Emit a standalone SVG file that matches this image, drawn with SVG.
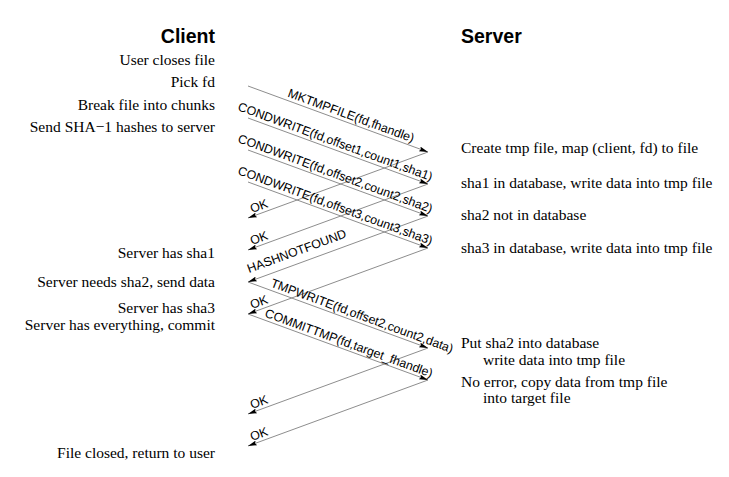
<svg xmlns="http://www.w3.org/2000/svg" width="729" height="477" viewBox="0 0 729 477">
  <style>
    .hdr { font-family: "Liberation Sans", Arial, sans-serif; font-weight: bold; font-size: 19.5px; fill: #000; }
    .note { font-family: "Liberation Serif", "Times New Roman", serif; font-size: 15.5px; fill: #000; }
    .right { text-anchor: end; }
    .msg { font-family: "Liberation Sans", Arial, sans-serif; font-size: 12.4px; fill: #000; }
    .wire { stroke: #808080; stroke-width: 0.9; fill: none; marker-end: url(#head); }
  </style>
  <defs>
    <marker id="head" markerUnits="userSpaceOnUse" viewBox="0 0 9 5" refX="9" refY="2.5" markerWidth="9" markerHeight="5" orient="auto">
      <path d="M0,0 L9,2.5 L0,5 L1.5,2.5 z" fill="#000"/>
    </marker>
  </defs>

  <rect width="729" height="477" fill="#fff"/>

  <!-- column headings -->
  <g id="client-header"><text class="hdr right" x="215" y="43">Client</text></g>
  <g id="server-header"><text class="hdr" x="461" y="43">Server</text></g>

  <!-- client-side notes -->
  <g id="client-notes">
    <text class="note right" x="215" y="65">User closes file</text>
    <text class="note right" x="215" y="87">Pick fd</text>
    <text class="note right" x="215" y="110">Break file into chunks</text>
    <text class="note right" x="215" y="132">Send SHA−1 hashes to server</text>
    <text class="note right" x="215" y="258">Server has sha1</text>
    <text class="note right" x="215" y="287">Server needs sha2, send data</text>
    <text class="note right" x="215" y="313">Server has sha3</text>
    <text class="note right" x="215" y="330">Server has everything, commit</text>
    <text class="note right" x="215" y="458">File closed, return to user</text>
  </g>

  <!-- server-side notes -->
  <g id="server-notes">
    <text class="note" x="461" y="153">Create tmp file, map (client, fd) to file</text>
    <text class="note" x="461" y="188">sha1 in database, write data into tmp file</text>
    <text class="note" x="461" y="220">sha2 not in database</text>
    <text class="note" x="461" y="253">sha3 in database, write data into tmp file</text>
    <text class="note" x="461" y="348">Put sha2 into database</text>
    <text class="note" x="483" y="365">write data into tmp file</text>
    <text class="note" x="461" y="387">No error, copy data from tmp file</text>
    <text class="note" x="483" y="403">into target file</text>
  </g>

  <!-- message lines, client at x=248, server at x=428 -->
  <g id="connectors">
    <line class="wire" x1="248" y1="86" x2="428" y2="152"/>
    <line class="wire" x1="248" y1="118" x2="428" y2="184"/>
    <line class="wire" x1="248" y1="150" x2="428" y2="216"/>
    <line class="wire" x1="248" y1="182" x2="428" y2="248"/>
    <line class="wire" x1="428" y1="152" x2="248" y2="218"/>
    <line class="wire" x1="428" y1="184" x2="248" y2="250"/>
    <line class="wire" x1="428" y1="216" x2="248" y2="282"/>
    <line class="wire" x1="428" y1="248" x2="248" y2="314"/>
    <line class="wire" x1="248" y1="282" x2="428" y2="348"/>
    <line class="wire" x1="248" y1="314" x2="428" y2="380"/>
    <line class="wire" x1="428" y1="348" x2="248" y2="414"/>
    <line class="wire" x1="428" y1="380" x2="248" y2="446"/>
  </g>

  <!-- message labels -->
  <g id="labels">
    <text class="msg" x="287" y="96.5" transform="rotate(20.14 287 96.5)">MKTMPFILE(fd,fhandle)</text>
    <text class="msg" x="237" y="110" transform="rotate(20.14 237 110)">CONDWRITE(fd,offset1,count1,sha1)</text>
    <text class="msg" x="237" y="142" transform="rotate(20.14 237 142)">CONDWRITE(fd,offset2,count2,sha2)</text>
    <text class="msg" x="237" y="174" transform="rotate(20.14 237 174)">CONDWRITE(fd,offset3,count3,sha3)</text>
    <text class="msg" x="252" y="213" transform="rotate(-20.14 252 213)">OK</text>
    <text class="msg" x="252" y="245" transform="rotate(-20.14 252 245)">OK</text>
    <text class="msg" x="249" y="273" transform="rotate(-20.14 249 273)">HASHNOTFOUND</text>
    <text class="msg" x="252" y="309" transform="rotate(-20.14 252 309)">OK</text>
    <text class="msg" x="270" y="286.5" transform="rotate(20.14 270 286.5)">TMPWRITE(fd,offset2,count2,data)</text>
    <text class="msg" x="264" y="316.5" transform="rotate(20.14 264 316.5)">COMMITTMP(fd,target_fhandle)</text>
    <text class="msg" x="252" y="409" transform="rotate(-20.14 252 409)">OK</text>
    <text class="msg" x="252" y="441" transform="rotate(-20.14 252 441)">OK</text>
  </g>
</svg>
